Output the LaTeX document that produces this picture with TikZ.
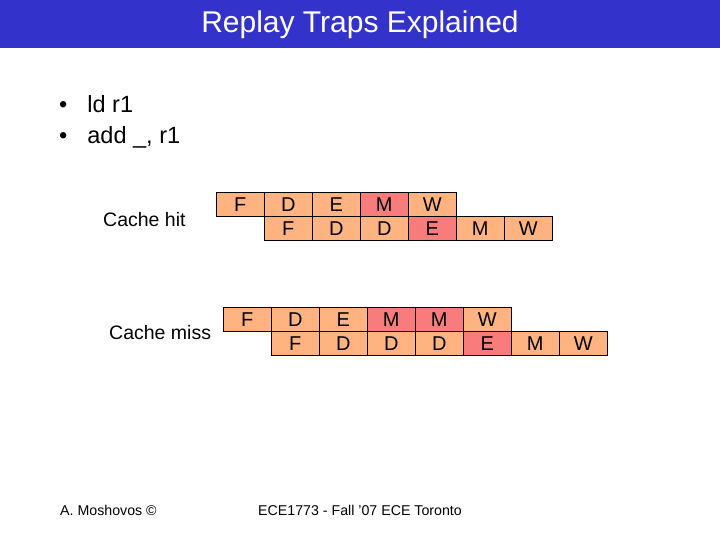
\documentclass[tikz,border=0pt]{standalone}
\usepackage{fontspec}
\setmainfont{Liberation Sans}
\definecolor{titleblue}{HTML}{3333CC}
\definecolor{peach}{HTML}{FFB380}
\definecolor{hot}{HTML}{F87C7C}
\begin{document}
\begin{tikzpicture}[x=1pt,y=-1pt,
  cell/.style={draw=black,line width=0.6pt,fill=peach,minimum width=48pt,minimum height=24pt,inner sep=0pt,anchor=north west,font=\fontsize{20}{20}\selectfont},
  hotcell/.style={cell,fill=hot},
  lbl/.style={inner sep=0pt,font=\fontsize{19.5}{19.5}\selectfont},
  bul/.style={inner sep=0pt,anchor=west,font=\fontsize{23.5}{23.5}\selectfont},
  foot/.style={inner sep=0pt,anchor=west,font=\fontsize{14.2}{14.2}\selectfont}]
\useasboundingbox (0,0) rectangle (720,540);
\fill[white] (0,0) rectangle (720,540);
\fill[titleblue] (0,0) rectangle (720,48);
\node[text=white,font=\fontsize{30}{30}\selectfont] (title) at (360,25) {Replay Traps Explained};
\node[bul] (b1) at (59,104) {•\hspace{20pt}ld r1};
\node[bul] (b2) at (59,137) {•\hspace{20pt}add \_, r1};
\node[lbl,anchor=west] (hit) at (103,220) {Cache hit};
\node[lbl,anchor=west] (miss) at (109,333) {Cache miss};
% cache hit
\node[cell] (h1) at (216,192) {F};
\node[cell] (h2) at (264,192) {D};
\node[cell] (h3) at (312,192) {E};
\node[hotcell] (h4) at (360,192) {M};
\node[cell] (h5) at (408,192) {W};
\node[cell] (h6) at (264,216) {F};
\node[cell] (h7) at (312,216) {D};
\node[cell] (h8) at (360,216) {D};
\node[hotcell] (h9) at (408,216) {E};
\node[cell] (h10) at (456,216) {M};
\node[cell] (h11) at (504,216) {W};
% cache miss
\node[cell] (m1) at (223,307) {F};
\node[cell] (m2) at (271,307) {D};
\node[cell] (m3) at (319,307) {E};
\node[hotcell] (m4) at (367,307) {M};
\node[hotcell] (m5) at (415,307) {M};
\node[cell] (m6) at (463,307) {W};
\node[cell] (m7) at (271,331) {F};
\node[cell] (m8) at (319,331) {D};
\node[cell] (m9) at (367,331) {D};
\node[cell] (m10) at (415,331) {D};
\node[hotcell] (m11) at (463,331) {E};
\node[cell] (m12) at (511,331) {M};
\node[cell] (m13) at (559,331) {W};
\node[foot] (f1) at (60,510) {A. Moshovos ©};
\node[foot] (f2) at (258,510) {ECE1773 - Fall '07 ECE Toronto};
\end{tikzpicture}
\end{document}
